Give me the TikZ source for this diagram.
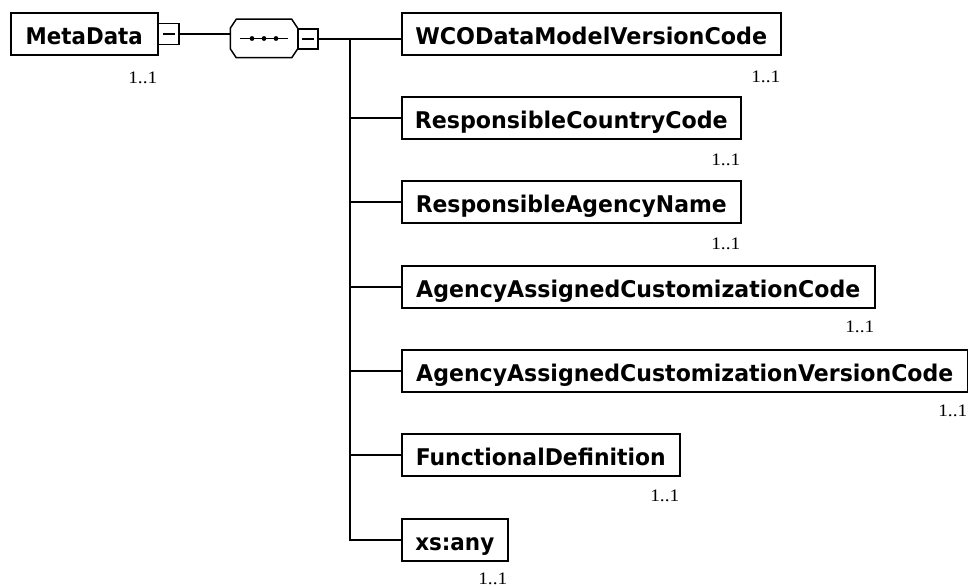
\documentclass[tikz,border=0pt]{standalone}
\usepackage{fontspec}
\usepackage{graphicx}
\setmainfont{DejaVu Sans}
\newfontfamily\cardfont{Liberation Serif}
\newcommand\fitw[2]{\resizebox{#1}{\height}{#2}}
\begin{document}
\begin{tikzpicture}[x=1pt,y=-1pt, line width=1.5pt,
 elem/.style={draw, line width=1.5pt, minimum height=42pt, inner sep=0pt, anchor=west,
   text height=21pt, text depth=0pt,
   font=\fontsize{23}{25}\selectfont\bfseries},
 card/.style={inner sep=0pt, anchor=east, font=\cardfont\fontsize{17.5}{18}\selectfont},
 minusbox/.style={draw, line width=1.5pt, inner sep=0pt},
 ]
\useasboundingbox (0,0) rectangle (968,586);

% root element
\node[elem, minimum width=147pt] (md) at (10,34) {\fitw{117pt}{MetaData}};
\node[minusbox, minimum size=21pt] (mdm) at (168.5,34) {};
\draw ([xshift=-6pt]mdm.center) -- ([xshift=6pt]mdm.center);

% sequence compositor
\node[inner sep=0pt, minimum width=66pt, minimum height=37pt] (seq) at (264,38.5) {};
\draw ([xshift=6pt]seq.north west) -- ([xshift=-6pt]seq.north east)
  -- ([yshift=-9pt]seq.north east) -- ([yshift=9pt]seq.south east)
  -- ([xshift=-6pt]seq.south east) -- ([xshift=6pt]seq.south west)
  -- ([yshift=9pt]seq.south west) -- ([yshift=-9pt]seq.north west) -- cycle;
\draw ([xshift=-24pt]seq.center) -- ([xshift=24pt]seq.center);
\fill ([xshift=-12pt]seq.center) circle (2.4pt);
\fill (seq.center) circle (2.4pt);
\fill ([xshift=12pt]seq.center) circle (2.4pt);
\node[minusbox, minimum size=20pt] (seqm) at (308,39) {};
\draw ([xshift=-6pt]seqm.center) -- ([xshift=6pt]seqm.center);

% child elements
\node[elem, minimum width=379pt] (wco)   at (401,34)  {\fitw{352pt}{WCODataModelVersionCode}};
\node[elem, minimum width=339pt] (rcc)   at (401,118) {\fitw{313pt}{ResponsibleCountryCode}};
\node[elem, minimum width=339pt] (ran)   at (401,202) {\fitw{311pt}{ResponsibleAgencyName}};
\node[elem, minimum width=473pt] (aacc)  at (401,287) {\fitw{444pt}{AgencyAssignedCustomizationCode}};
\node[elem, minimum width=566pt] (aacvc) at (401,371) {\fitw{537pt}{AgencyAssignedCustomizationVersionCode}};
\node[elem, minimum width=278pt] (fd)    at (401,455) {\fitw{250pt}{FunctionalDefinition}};
\node[elem, minimum width=106pt] (any)   at (401,540) {\fitw{79pt}{xs:any}};

% connectors
\draw (mdm.east) -- (mdm.east -| seq.west);
\draw (seqm.east) -- (seqm.east -| wco.west);
\coordinate (trunk) at (350,39);
\foreach \n in {rcc,ran,aacc,aacvc,fd,any} \draw (trunk) |- (\n.west);

% cardinalities
\foreach \n/\y in {md/77.5,wco/76.5,rcc/160,ran/244,aacc/327,aacvc/411,fd/496,any/578.5}{
  \coordinate (\n-cy) at (0,\y);
  \node[card] (\n-c) at ([xshift=-0.5pt]\n.east |- \n-cy) {\fitw{29pt}{1..1}};
}
\end{tikzpicture}
\end{document}
